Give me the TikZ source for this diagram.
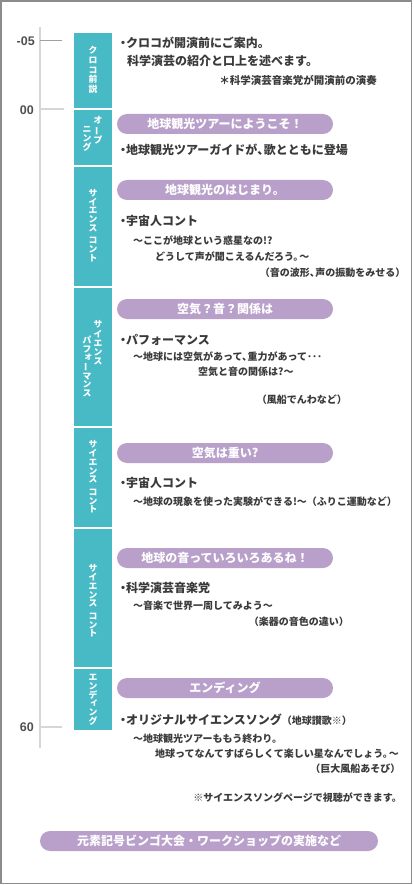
\documentclass[tikz,border=0pt]{standalone}
\usepackage{fontspec}
\usepackage{graphicx}
\setmainfont{Noto Sans CJK JP}
\newfontfamily\numfont{Liberation Sans}
\definecolor{tealc}{HTML}{48BAC6}
\definecolor{lav}{HTML}{B9A0CA}
\definecolor{ink}{HTML}{3A3A3A}
\definecolor{labc}{HTML}{505050}
\definecolor{framec}{HTML}{8C8C8C}
\definecolor{tlc}{HTML}{D6D6D6}
\definecolor{tickc}{HTML}{A0A0A0}
\newcommand\bul{\makebox[6pt][l]{\kern-3pt ・}}
\newcommand\tn{、\kern-0.45em}
\newcommand\vbar{\rotatebox[origin=c]{90}{ー}}
\newcommand\smk[1]{\makebox[1em][c]{\hspace*{0.3em}\raisebox{0.15em}{#1}}}
\newcommand\subsize{\fontsize{10}{12}\selectfont}
\begin{document}
\begin{tikzpicture}[x=1pt,y=-1pt,
  txt/.style={inner sep=0pt, text=ink, anchor=west, font=\fontsize{12}{14}\selectfont\bfseries},
  sub/.style={inner sep=0pt, text=ink, font=\subsize\bfseries},
  note/.style={inner sep=0pt, text=ink, font=\fontsize{10.5}{12}\selectfont\bfseries},
  pill/.style={fill=lav, rounded corners=10pt, minimum width=216pt, minimum height=20pt, inner sep=0pt, text=white, font=\fontsize{12}{14}\selectfont\bfseries},
  vt/.style={inner sep=0pt, text=white, align=center, font=\fontsize{8.8}{8.8}\selectfont\bfseries},
  lab/.style={inner sep=0pt, text=labc, anchor=east, font=\numfont\fontsize{12.5}{14}\selectfont\bfseries},
]
\useasboundingbox (0,0) rectangle (413,885);
\draw[framec, line width=1.3pt] (1,1) rectangle (411.5,883.5);

% timeline
\coordinate (lt) at (39.5,27);
\coordinate (lb) at (39.5,748);
\draw[tlc, line width=2pt] (lt) -- (lb);
\coordinate (k1a) at (39.5,41);  \coordinate (k1b) at (62,41);
\coordinate (k2a) at (39.5,109.5); \coordinate (k2b) at (64,109.5);
\coordinate (k3a) at (39.5,727); \coordinate (k3b) at (62,727);
\draw[tickc, line width=1pt] (k1a) -- (k1b);
\draw[tlc, line width=2pt] (k2a) -- (k2b);
\draw[tlc, line width=2pt] (k3a) -- (k3b);
\node[lab] (n05) at (35,41) {-05};
\node[lab] (n00) at (34,110) {00};
\node[lab] (n60) at (34,727) {60};

% teal column
\fill[tealc] (74,33) rectangle (112,108.3);
\fill[tealc] (74,109.8) rectangle (112,165.3);
\fill[tealc] (74,166.8) rectangle (112,286.3);
\fill[tealc] (74,287.8) rectangle (112,426.3);
\fill[tealc] (74,427.8) rectangle (112,527.3);
\fill[tealc] (74,528.8) rectangle (112,667.3);
\fill[tealc] (74,668.8) rectangle (112,730);

\node[vt, font=\fontsize{8.8}{9.7}\selectfont\bfseries] (v1) at (93,70) {ク\\ロ\\コ\\前\\説};
\node[vt] (v2r) at (98,130.5) {オ\\\vbar\\プ};
\node[vt] (v2l) at (87,139) {ニ\\ン\\グ};
\node[vt] (v3) at (93,225.5) {サ\\イ\\エ\\ン\\ス\\[3.5pt]コ\\ン\\ト};
\node[vt, font=\fontsize{8.8}{9.3}\selectfont\bfseries] (v4r) at (98,343) {サ\\イ\\エ\\ン\\ス};
\node[vt, font=\fontsize{8.8}{8.5}\selectfont\bfseries] (v4l) at (87,366.5) {パ\\フ\\\smk{ォ}\\\vbar\\マ\\ン\\ス};
\node[vt] (v5) at (93,477) {サ\\イ\\エ\\ン\\ス\\[3.5pt]コ\\ン\\ト};
\node[vt] (v6) at (93,601) {サ\\イ\\エ\\ン\\ス\\[3.5pt]コ\\ン\\ト};
\node[vt] (v7) at (93,700) {エ\\ン\\デ\\\smk{ィ}\\ン\\グ};

% pills
\node[pill] (p1) at (225,124) {地球観光ツアーにようこそ！};
\node[pill] (p2) at (225,190) {地球観光のはじまり。};
\node[pill] (p3) at (225,309) {空気？音？関係は};
\node[pill] (p4) at (225,453) {空気は重い?};
\node[pill] (p5) at (225,558) {地球の音っていろいろあるね！};
\node[pill] (p6) at (225,688) {エンディング};
\node[pill, minimum width=338pt] (p7) at (209,841) {元素記号ビンゴ大会・ワークショップの実施など};

% section 1
\node[txt] (t1a) at (120,43) {\bul クロコが開演前にご案内。};
\node[txt] (t1b) at (127,61) {科学演芸の紹介と口上を述べます。};
\node[note, anchor=east] (t1c) at (377,80) {＊科学演芸音楽党が開演前の演奏};
% section 2
\node[txt] (t2a) at (120,150) {\bul 地球観光ツアーガイドが\tn 歌とともに登場};
% section 3
\node[txt] (t3a) at (120,221) {\bul 宇宙人コント};
\node[sub, anchor=west] (t3b) at (133,241) {～ここが地球という惑星なの!?};
\node[sub, anchor=west] (t3c) at (155,257) {どうして声が聞こえるんだろう。\kern-.4em～};
\node[sub, anchor=east] (t3d) at (405.5,273) {（音の波形\tn 声の振動をみせる）};
% section 4
\node[txt] (t4a) at (120,340) {\bul パフォーマンス};
\node[sub, anchor=west] (t4b) at (133,357) {～地球には空気があって\tn 重力があって･･･};
\node[sub, anchor=west] (t4c) at (198,372) {空気と音の関係は?～};
\node[sub, anchor=east] (t4d) at (347,400) {（風船でんわなど）};
% section 5
\node[txt] (t5a) at (120,483) {\bul 宇宙人コント};
\node[sub, anchor=west] (t5b) at (133,502) {～地球の現象を使った実験ができる!～（ふりこ運動など）};
% section 6
\node[txt] (t6a) at (120,588) {\bul 科学演芸音楽党};
\node[sub, anchor=west] (t6b) at (133,606) {～音楽で世界一周してみよう～};
\node[sub, anchor=east] (t6c) at (349,622) {（楽器の音色の違い）};
% section 7
\node[txt] (t7a) at (120,720) {\bul オリジナルサイエンスソング{\subsize（地球讃歌※）}};
\node[sub, anchor=west] (t7b) at (133,739) {～地球観光ツアーももう終わり。};
\node[sub, anchor=west] (t7c) at (155,754) {地球ってなんてすばらしくて楽しい星なんでしょう。\kern-.4em～};
\node[sub, anchor=east] (t7d) at (400.5,769) {（巨大風船あそび）};
\node[sub, anchor=east] (t8) at (402,798) {※サイエンスソングページで視聴ができます。};
\end{tikzpicture}
\end{document}
